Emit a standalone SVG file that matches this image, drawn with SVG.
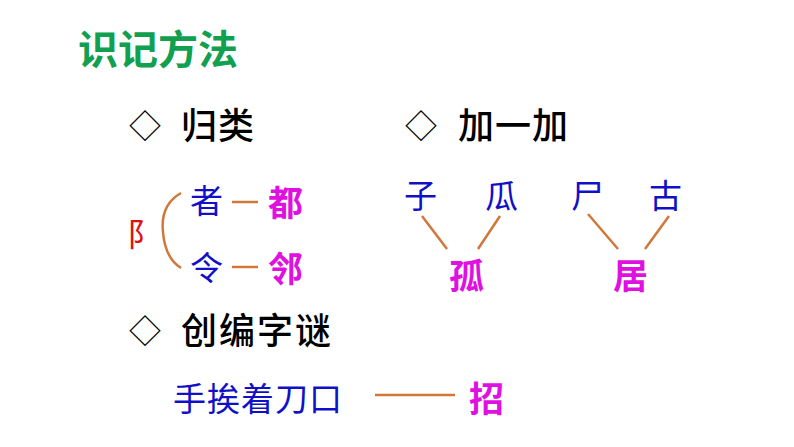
<svg xmlns="http://www.w3.org/2000/svg" width="794" height="447" viewBox="0 0 794 447">
<style>
text{font-family:"Noto Sans CJK SC","Noto Sans",sans-serif}
.d{font-size:32px;fill:#000}
.h{font-size:36px;fill:#000;font-weight:500}
.b{font-size:33px;fill:#1010c8}
.m{font-size:35px;fill:#e010e0;font-weight:bold}
.c{stroke:#d0783a;stroke-width:2.5;fill:none}
</style>
<rect width="794" height="447" fill="#fff"/>
<g id="title"><text x="78" y="64" font-size="40" fill="#10a050" font-weight="bold">识记方法</text></g>
<g id="h1"><text class="d" x="129" y="138">◇</text><text class="h" x="181" y="139" letter-spacing="1">归类</text></g>
<g id="h2"><text class="d" x="405" y="138">◇</text><text class="h" x="458" y="139" letter-spacing="1">加一加</text></g>
<g id="h3"><text class="d" x="129" y="343">◇</text><text class="h" x="181" y="344" letter-spacing="2">创编字谜</text></g>
<g id="radical"><text x="127" y="246" font-size="32" fill="#e01010">阝</text></g>
<g id="zhe"><text class="b" x="190" y="213">者</text></g>
<g id="ling"><text class="b" x="190" y="280">令</text></g>
<g id="du"><text class="m" x="268" y="216">都</text></g>
<g id="lin"><text class="m" x="268" y="282">邻</text></g>
<g id="zi"><text class="b" x="404" y="208">子</text></g>
<g id="gua"><text class="b" x="485" y="208">瓜</text></g>
<g id="shi"><text class="b" x="571" y="208">尸</text></g>
<g id="gu"><text class="b" x="649" y="208">古</text></g>
<g id="gu2"><text class="m" x="449" y="289">孤</text></g>
<g id="ju"><text class="m" x="613" y="289">居</text></g>
<g id="riddle"><text class="b" x="173" y="411" font-size="36" letter-spacing="1">手挨着刀口</text></g>
<g id="zhao"><text class="m" x="469" y="412">招</text></g>
<g id="connectors">
<path class="c" d="M181,193 Q160,205 163,232 Q165,258 181,268"/>
<line class="c" x1="232" y1="202" x2="258" y2="202"/>
<line class="c" x1="232" y1="267" x2="258" y2="267"/>
<line class="c" x1="422" y1="216" x2="447" y2="249"/>
<line class="c" x1="500" y1="216" x2="478" y2="249"/>
<line class="c" x1="588" y1="214" x2="618" y2="249"/>
<line class="c" x1="669" y1="216" x2="645" y2="249"/>
<line class="c" x1="375" y1="395" x2="455" y2="395"/>
</g>
</svg>
